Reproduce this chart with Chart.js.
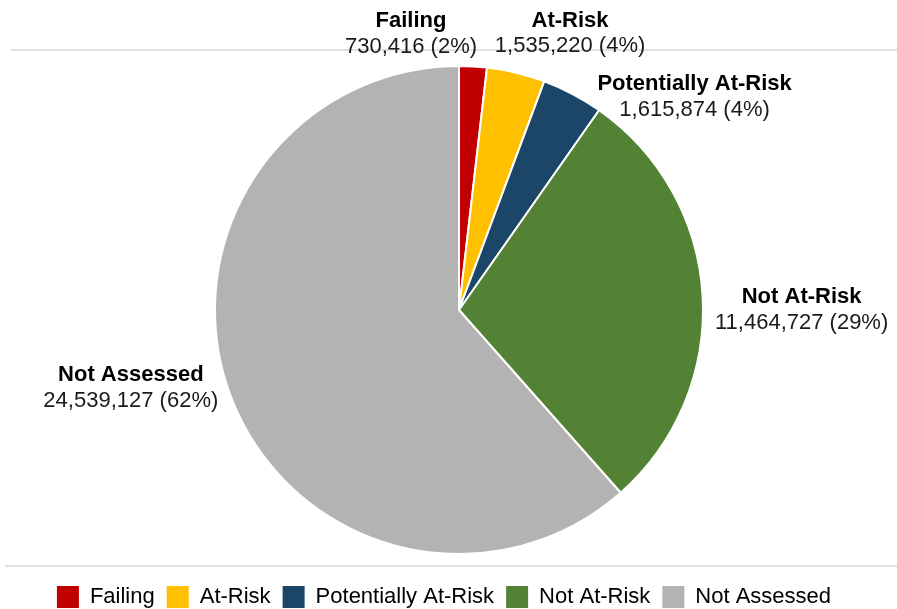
<!DOCTYPE html>
<html>
<head>
<meta charset="utf-8">
<script src="https://cdn.jsdelivr.net/npm/chart.js@4"></script>
<style>
  html, body { margin: 0; padding: 0; background: #fff; overflow: hidden; }
  #wrap { width: 897px; height: 609px; position: relative; }
</style>
</head>
<body>
<div id="wrap"><canvas id="chart"></canvas></div>
<script>
const ctx = document.getElementById('chart');

// data
var categories = ['Failing', 'At-Risk', 'Potentially At-Risk', 'Not At-Risk', 'Not Assessed'];
var counts = [730416, 1535220, 1615874, 11464727, 24539127];
var colors = ['#c00000', '#ffc000', '#1c4668', '#548235', '#b3b3b3'];

// where each label sits, relative to the outer edge of its slice
var labelNudge = [[-62, -33], [54, -40], [122, 2], [99, 13], [-100, -9]];

var total = counts.reduce((a, b) => a + b, 0);

const guideLines = {
    id: 'guideLines',
    afterLayout(chart) {
        // legend sits a bit left of the pie's centre in the original
        chart.legend.left -= 15;
        chart.legend.right -= 15;
    },
    beforeDraw(chart) {
        const c = chart.ctx;
        c.save();
        c.strokeStyle = '#d9d9d9';
        c.lineWidth = 1.5;
        c.beginPath();
        c.moveTo(11, 50); c.lineTo(897, 50);
        c.moveTo(5, 566); c.lineTo(897, 566);
        c.stroke();
        c.restore();
    }
};

const sliceLabels = {
    id: 'sliceLabels',
    afterDatasetsDraw(chart) {
        const c = chart.ctx;
        const meta = chart.getDatasetMeta(0);
        c.save();
        c.textAlign = 'center';
        c.textBaseline = 'middle';
        meta.data.forEach((arc, i) => {
            const p = arc.getProps(['x', 'y', 'startAngle', 'endAngle', 'outerRadius'], true);
            const mid = (p.startAngle + p.endAngle) / 2;
            const x = p.x + Math.cos(mid) * p.outerRadius + labelNudge[i][0];
            const y = p.y + Math.sin(mid) * p.outerRadius + labelNudge[i][1];
            const v = counts[i];
            const pct = Math.round(v / total * 100);
            c.fillStyle = '#000';
            c.font = 'bold 22px "Liberation Sans", Arial, sans-serif';
            c.fillText(categories[i], x, y - 12);
            c.fillStyle = '#1a1a1a';
            c.font = '22px "Liberation Sans", Arial, sans-serif';
            c.fillText(v.toLocaleString('en-US') + ' (' + pct + '%)', x, y + 13.5);
        });
        c.restore();
    }
};

new Chart(ctx, {
    type: 'pie',
    data: {
        labels: categories,
        datasets: [{
            data: counts,
            backgroundColor: colors,
            borderColor: '#ffffff',
            borderWidth: 2,
            radius: 244
        }]
    },
    options: {
        responsive: true,
        maintainAspectRatio: false,
        animation: false,
        layout: {
            padding: { top: 46, left: 21, right: 0, bottom: -9 }
        },
        plugins: {
            legend: {
                position: 'bottom',
                labels: {
                    boxWidth: 22,
                    boxHeight: 22,
                    padding: 12,
                    color: '#1a1a1a',
                    font: { size: 22, family: '"Liberation Sans", Arial, sans-serif' },
                    generateLabels(chart) {
                        return chart.data.labels.map((l, i) => ({
                            text: l,
                            fillStyle: colors[i],
                            strokeStyle: colors[i],
                            lineWidth: 0,
                            index: i
                        }));
                    }
                }
            },
            tooltip: { enabled: false },
            title: { display: false }
        }
    },
    plugins: [guideLines, sliceLabels]
});
</script>
</body>
</html>
